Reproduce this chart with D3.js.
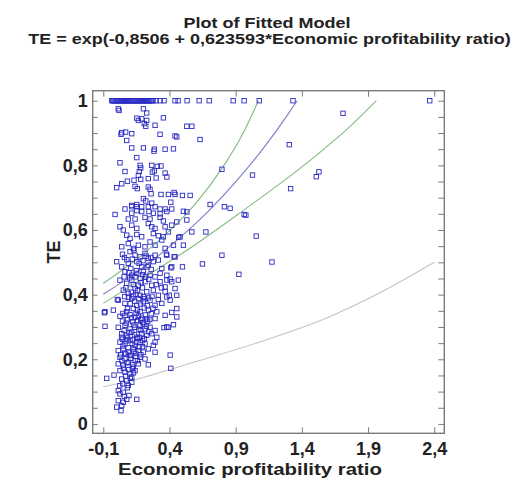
<!DOCTYPE html>
<html>
<head>
<meta charset="utf-8">
<script src="https://cdn.jsdelivr.net/npm/d3@7"></script>
<style>
  body { margin: 0; background: #fff; }
  text { font-family: "Liberation Sans", Arial, sans-serif; font-weight: bold; fill: #222; }
</style>
</head>
<body>
<div id="grafica"></div>
<script>
// Datos leidos de la grafica
// puntos con TE = 1 (franja superior)
const xTope = [-0.036, -0.028, -0.02, -0.012, -0.004, 0.004, 0.012, 0.02, 0.028, 0.036, 0.044, 0.052,
  0.06, 0.068, 0.076, 0.084, 0.092, 0.1, 0.108, 0.116, 0.124, 0.132, 0.14, 0.148, 0.156, 0.164, 0.172,
  0.18, 0.188, 0.196, 0.204, 0.212, 0.22, 0.228, 0.236, 0.244, 0.252, 0.26, 0.268, 0.276,
  0.299, 0.329, 0.359, 0.442, 0.465, 0.533, 0.624, 0.70, 0.881, 0.964, 1.078, 1.333, 2.366]

// resto de observaciones [ratio, TE]
const puntosAltos = [
  [0.013,0.975],[0.019,0.970],[0.203,0.975],[0.228,0.962],[0.153,0.946],[0.165,0.939],[0.19,0.944],
  [0.228,0.939],[0.21,0.929],[0.354,0.947],[0.221,0.921],[0.291,0.924],[0.531,0.921],[0.569,0.921],
  [0.039,0.901],[0.034,0.896],[0.069,0.903],[0.115,0.898],[0.329,0.896],[0.442,0.891],[0.455,0.888],
  [0.631,0.880],[0.077,0.877],[0.115,0.854],[0.203,0.854],[0.286,0.850],[0.283,0.844],[0.367,0.850],
  [0.43,0.851],[0.153,0.824],[0.026,0.808],[0.178,0.800],[0.183,0.792],[0.266,0.800],[0.308,0.797],
  [0.336,0.798],[0.064,0.781],[0.172,0.781],[0.165,0.769],[0.271,0.779],[0.286,0.783],[0.367,0.776],
  [0.38,0.764],[0.24,0.759],[0.082,0.751],[0.132,0.754],[0.183,0.757],[0.299,0.761],[0.039,0.743],
  [0.001,0.731],[0.14,0.735],[0.157,0.728],[0.24,0.733],[0.253,0.726],[0.261,0.712],[0.336,0.710],
  [0.392,0.710],[0.435,0.716],[0.442,0.710],[0.498,0.707],[0.556,0.707],[0.203,0.697],[0.221,0.690],
  [0.153,0.679],[0.115,0.676],[0.266,0.683],[0.41,0.686]
]

const puntosDerecha = [
  [0.796,0.788],[1.027,0.770],[0.707,0.679],[0.815,0.672],[0.858,0.667],[0.964,0.648],[0.977,0.646],
  [1.055,0.581],[0.531,0.656],[0.569,0.594],[0.675,0.594],[0.796,0.522],[1.305,0.864],[1.315,0.728],
  [0.649,0.495],[1.174,0.501],[0.924,0.463],[1.711,0.961],[1.529,0.780],[1.509,0.765],
  [0.47,0.577],[0.435,0.517],[0.377,0.525],[0.41,0.483]
]

const puntosMedios = [
  [0.064,0.665],[0.115,0.672],[0.153,0.672],[0.19,0.672],[0.24,0.672],[0.291,0.672],[0.329,0.665],
  [0.367,0.665],[0.417,0.665],
  [-0.011,0.648],[0.115,0.652],[0.153,0.660],[0.19,0.657],[0.245,0.657],[0.278,0.652],[0.329,0.650],
  [0.38,0.657],[0.505,0.658],
  [0.089,0.634],[0.140,0.634],[0.215,0.639],[0.253,0.634],[0.329,0.639],[0.354,0.628],
  [0.026,0.610],[0.051,0.600],[0.115,0.615],[0.153,0.605],[0.240,0.620],[0.266,0.610],[0.291,0.605],
  [0.367,0.610],[0.417,0.615],[0.455,0.625],[0.531,0.631],
  [0.077,0.584],[0.102,0.574],[0.153,0.586],[0.19,0.579],[0.278,0.589],[0.316,0.582],[0.354,0.579],
  [0.392,0.594],[0.48,0.579],
  [0.039,0.548],[0.089,0.558],[0.127,0.543],[0.165,0.553],[0.215,0.548],[0.253,0.563],[0.291,0.553],
  [0.342,0.569],[0.367,0.543],[0.430,0.553],[0.505,0.553],
  [0.102,0.533],[0.140,0.522],[0.178,0.517],[0.215,0.528],[0.240,0.512],[0.291,0.522],[0.316,0.507],
  [0.38,0.522],[0.442,0.517],
  [0.06,0.515],[0.12,0.51],[0.2,0.505],[0.26,0.515],[0.001,0.502],
  [0.039,0.486],[0.089,0.497],[0.153,0.502],[0.19,0.486],[0.24,0.491],[0.278,0.502],[0.342,0.481],
  [0.417,0.486],[0.498,0.486],
  [0.064,0.471],[0.115,0.460],[0.153,0.466],[0.203,0.471],[0.253,0.460],[0.291,0.455],[0.329,0.466],
  [0.38,0.460],
  [0.10,0.452],[0.14,0.455],[0.18,0.45],[0.22,0.455],
  [0.026,0.445],[0.077,0.435],[0.115,0.445],[0.165,0.429],[0.215,0.440],[0.266,0.429],[0.329,0.440],
  [0.367,0.424],[0.417,0.440],[0.467,0.445],[0.405,0.448],[0.38,0.445],
  [0.051,0.414],[0.089,0.404],[0.140,0.419],[0.178,0.398],[0.228,0.409],[0.278,0.414],[0.316,0.398],
  [0.367,0.409],[0.442,0.419],[0.38,0.393],[0.399,0.398],[0.455,0.398],
  [0.09,0.392],[0.128,0.396],[0.166,0.388],[0.204,0.394],[0.242,0.39],
  [0.013,0.383],[0.064,0.373],[0.115,0.388],[0.153,0.367],[0.203,0.378],[0.253,0.383],[0.291,0.367],
  [0.342,0.373],[0.405,0.383],[0.006,0.385],
  [-0.087,0.347],[-0.024,0.352],[0.077,0.347],[0.127,0.357],[0.178,0.347],[0.24,0.352],[0.304,0.347],
  [-0.092,0.344],[0.455,0.357],[0.417,0.345],[0.455,0.331]
]

const puntosBajos = [
  [0.026,0.333],[0.064,0.336],[0.102,0.338],[0.140,0.330],[0.165,0.334],[0.19,0.327],[0.228,0.325],
  [0.291,0.326],[0.367,0.336],
  [0.045,0.318],[0.083,0.322],[0.121,0.316],[0.159,0.320],[0.197,0.314],[0.235,0.318],
  [0.013,0.299],[0.064,0.305],[0.102,0.294],[0.140,0.299],[0.178,0.305],[0.215,0.294],[0.253,0.299],
  [0.291,0.289],[0.392,0.299],[0.430,0.307],[-0.087,0.302],[0.380,0.300],[0.359,0.298],
  [0.039,0.279],[0.077,0.274],[0.115,0.284],[0.153,0.268],[0.19,0.279],[0.228,0.274],[0.266,0.279],
  [0.304,0.268],
  [0.045,0.262],[0.083,0.266],[0.121,0.260],[0.159,0.264],[0.197,0.258],
  [0.026,0.253],[0.064,0.248],[0.102,0.258],[0.140,0.243],[0.178,0.253],[0.215,0.248],[0.291,0.253],
  [0.278,0.243],
  [0.013,0.227],[0.051,0.232],[0.089,0.222],[0.127,0.232],[0.165,0.227],[0.203,0.222],[0.240,0.232],
  [0.291,0.222],
  [0.032,0.214],[0.07,0.216],[0.108,0.212],[0.146,0.218],[0.184,0.214],[0.405,0.213],
  [0.026,0.206],[0.064,0.201],[0.102,0.212],[0.140,0.196],[0.178,0.206],[0.215,0.201],
  [0.013,0.186],[0.051,0.181],[0.089,0.191],[0.127,0.176],[0.165,0.186],[0.24,0.183],
  [0.026,0.165],[0.064,0.160],[0.102,0.155],[0.140,0.165],[0.115,0.145],[0.41,0.172],
  [-0.074,0.141],[-0.019,0.151],
  [0.039,0.139],[0.077,0.134],[0.115,0.129],[0.089,0.119],
  [0.013,0.103],[0.051,0.098],[0.026,0.093],
  [0.013,0.072],[0.051,0.067],[0.077,0.076],[0.039,0.057],[0.001,0.052],[0.034,0.041],[0.153,0.076]
]

// nucleo denso de la nube
const puntosNucleo = [
  [0.045,0.525],[0.078,0.508],[0.132,0.538],[0.171,0.497],[0.224,0.519],[0.262,0.478],[0.108,0.481],
  [0.149,0.474],[0.197,0.462],[0.231,0.486],[0.057,0.455],[0.094,0.468],[0.127,0.431],[0.186,0.437],
  [0.243,0.448],[0.301,0.431],[0.071,0.421],[0.112,0.408],[0.158,0.412],[0.196,0.421],[0.061,0.394],
  [0.147,0.401],[0.213,0.387],[0.268,0.395],[0.103,0.372],[0.137,0.379],[0.181,0.371],[0.232,0.366],
  [0.083,0.357],[0.158,0.352],[0.209,0.359],[0.262,0.341],[0.048,0.342],[0.112,0.328],[0.148,0.342],
  [0.218,0.337],[0.183,0.322],[0.073,0.312],[0.131,0.306],[0.168,0.293],[0.206,0.309],[0.244,0.285],
  [0.057,0.289],[0.094,0.283],[0.136,0.276],[0.172,0.268],[0.211,0.264],[0.038,0.268],[0.072,0.257],
  [0.118,0.249],[0.153,0.252],[0.196,0.239],[0.048,0.241],[0.088,0.236],[0.131,0.224],[0.171,0.238],
  [0.062,0.219],[0.108,0.203],[0.146,0.209],[0.041,0.196],[0.079,0.189],[0.121,0.184],[0.158,0.196],
  [0.052,0.172],[0.091,0.168],[0.128,0.158],[0.068,0.148],[0.104,0.141],[0.046,0.124],[0.082,0.112],
  [0.058,0.085],[0.094,0.088],[0.024,0.118],[0.119,0.171],[0.184,0.289],[0.226,0.302],[0.251,0.323],
  [0.276,0.358],[0.315,0.385],[0.339,0.421]
]

// curvas del modelo ajustado y sus limites
const curvaAjuste = [[-0.1,0.401],[0.1,0.455],[0.3,0.515],[0.5,0.584],[0.7,0.661],[0.9,0.749],
  [1.1,0.848],[1.3,0.961],[1.364,1.0]]
const limSupMedia = [[-0.1,0.435],[0.2,0.525],[0.4,0.597],[0.6,0.683],[0.8,0.793],[0.95,0.895],[1.072,1.0]]
const limInfMedia = [[-0.1,0.373],[0.2,0.451],[0.6,0.556],[1.0,0.673],[1.25,0.748],[1.5,0.828],
  [1.75,0.915],[1.963,1.0]]
const limInfPred = [[-0.1,0.115],[0.1,0.133],[0.6,0.193],[1.1,0.256],[1.6,0.33],[2.0,0.408],[2.4,0.5]]

// ejes
const xTicks = [-0.1, 0.4, 0.9, 1.4, 1.9, 2.4]
const yTicks = [0, 0.2, 0.4, 0.6, 0.8, 1]
const yMenores = [0, 0.05, 0.1, 0.15, 0.2, 0.25, 0.3, 0.35, 0.4, 0.45, 0.5, 0.55, 0.6, 0.65, 0.7,
  0.75, 0.8, 0.85, 0.9, 0.95, 1]

const titulo1 = "Plot of Fitted Model"
const titulo2 = "TE = exp(-0,8506 + 0,623593*Economic profitability ratio)"
const tituloX = "Economic profitability ratio"
const tituloY = "TE"

const anchoTotal = 527
const altoTotal = 483
const margen = { izq: 92.7, der: 82.7, sup: 90.7, inf: 49.7 }
const ancho = anchoTotal - margen.izq - margen.der
const alto = altoTotal - margen.sup - margen.inf

const es = d3.formatLocale({ decimal: ",", thousands: ".", grouping: [3], currency: ["", ""], minus: "-" })
const f = es.format(".1~f")

const svg = d3.select("#grafica")
  .append("svg")
  .attr("width", anchoTotal)
  .attr("height", altoTotal)

const x = d3.scaleLinear().domain([-0.18, 2.476]).range([0, ancho])
const y = d3.scaleLinear().domain([-0.029, 1.031]).range([alto, 0])

const g = svg.append("g")
  .attr("transform", "translate(" + margen.izq + "," + margen.sup + ")")

svg.append("defs").append("clipPath").attr("id", "recorte")
  .append("rect").attr("width", ancho).attr("height", alto)

// titulos (letra algo ensanchada como en la original)
svg.append("text").attr("transform", "translate(267,27.5) scale(1.2,1)").attr("text-anchor", "middle")
  .style("font-size", "15px").text(titulo1)
svg.append("text").attr("transform", "translate(269.5,43.5) scale(1.2,1)").attr("text-anchor", "middle")
  .style("font-size", "15px").text(titulo2)

// curvas
const linea = d3.line().x(d => x(d[0])).y(d => y(d[1])).curve(d3.curveMonotoneX)
const gCurvas = g.append("g").attr("clip-path", "url(#recorte)")
const curvas = [
  { datos: limInfPred, color: "#c4c4c4" },
  { datos: limInfMedia, color: "#82bb82" },
  { datos: limSupMedia, color: "#82bb82" },
  { datos: curvaAjuste, color: "#7c7cc6" }
]
curvas.forEach(c => {
  gCurvas.append("path")
    .attr("d", linea(c.datos))
    .attr("fill", "none")
    .attr("stroke", c.color)
    .attr("stroke-width", 1.1)
})

// puntos
const todos = xTope.map(v => [v, 1])
  .concat(puntosAltos, puntosDerecha, puntosMedios, puntosBajos, puntosNucleo)
const lado = 4.4
g.append("g")
  .selectAll("rect")
  .data(todos)
  .enter().append("rect")
  .attr("x", d => x(d[0]) - lado / 2)
  .attr("y", d => y(d[1]) - lado / 2)
  .attr("width", lado)
  .attr("height", lado)
  .attr("fill", "none")
  .attr("stroke", "#2a2ac4")
  .attr("stroke-width", 0.9)

// ejes: marcas hacia dentro
const gris = "#7a7a7a"
const ejeIzq = g.append("g")
  .call(d3.axisLeft(y).tickValues(yMenores).tickSize(-5).tickFormat(""))
const ejeIzqLab = g.append("g")
  .call(d3.axisLeft(y).tickValues(yTicks).tickSize(0).tickPadding(5).tickFormat(f))
const ejeDer = g.append("g").attr("transform", "translate(" + ancho + ",0)")
  .call(d3.axisRight(y).tickValues(yMenores).tickSize(-6).tickFormat(""))
const ejeAbajo = g.append("g").attr("transform", "translate(0," + alto + ")")
  .call(d3.axisBottom(x).tickValues(xTicks).tickSize(-6).tickPadding(9).tickFormat(f))
const ejeArriba = g.append("g")
  .call(d3.axisTop(x).tickValues(xTicks).tickSize(-6).tickFormat(""))

;[ejeIzq, ejeIzqLab, ejeDer, ejeAbajo, ejeArriba].forEach(e => {
  e.select(".domain").remove()
  e.selectAll("line").attr("stroke", gris).attr("stroke-width", 1)
  e.selectAll("text").style("font-size", "18px").attr("fill", "#222")
    .style("font-family", "'Liberation Sans', Arial, sans-serif").style("font-weight", "bold")
})

// marco
g.append("rect")
  .attr("width", ancho).attr("height", alto)
  .attr("fill", "none").attr("stroke", gris).attr("stroke-width", 1.4)

// titulos de ejes
svg.append("text")
  .attr("transform", "translate(60," + 252 + ") rotate(-90)")
  .attr("text-anchor", "middle")
  .style("font-size", "18px").text(tituloY)
svg.append("text")
  .attr("transform", "translate(250,475) scale(1.2,1)")
  .attr("text-anchor", "middle")
  .style("font-size", "17px").text(tituloX)
</script>
</body>
</html>
